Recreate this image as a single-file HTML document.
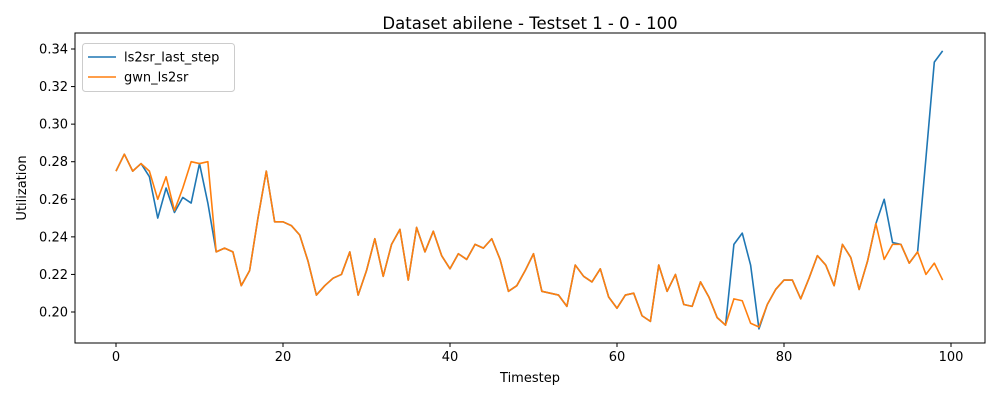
<!DOCTYPE html>
<html><head><meta charset="utf-8"><style>
body{margin:0;background:#fff;font-family:"DejaVu Sans","Liberation Sans",sans-serif}
svg text{font-family:"DejaVu Sans","Liberation Sans",sans-serif}
</style></head><body>
<svg id="c" width="1000" height="400" xmlns="http://www.w3.org/2000/svg"></svg>
<script>
const timesteps=[...Array(100).keys()];
const gwn=[.275,.284,.275,.279,.275,.260,.272,.254,.266,.280,.279,.280,.232,.234,.232,.214,.222,.250,.275,.248,.248,.246,.241,.227,.209,.214,.218,.220,.232,.209,.222,.239,.219,.236,.244,.217,.245,.232,.243,.230,.223,.231,.228,.236,.234,.239,.228,.211,.214,.222,.231,.211,.210,.209,.203,.225,.219,.216,.223,.208,.202,.209,.210,.198,.195,.225,.211,.220,.204,.203,.216,.208,.197,.193,.207,.206,.194,.192,.204,.212,.217,.217,.207,.218,.230,.225,.214,.236,.229,.212,.227,.247,.228,.236,.236,.226,.232,.220,.226,.217];
const lastStep=[.275,.284,.275,.279,.272,.250,.266,.253,.261,.258,.279,.258,.232,.234,.232,.214,.222,.250,.275,.248,.248,.246,.241,.227,.209,.214,.218,.220,.232,.209,.222,.239,.219,.236,.244,.217,.245,.232,.243,.230,.223,.231,.228,.236,.234,.239,.228,.211,.214,.222,.231,.211,.210,.209,.203,.225,.219,.216,.223,.208,.202,.209,.210,.198,.195,.225,.211,.220,.204,.203,.216,.208,.197,.193,.236,.242,.225,.191,.204,.212,.217,.217,.207,.218,.230,.225,.214,.236,.229,.212,.227,.247,.260,.237,.236,.226,.232,.282,.333,.339];
const xTicks=[0,20,40,60,80,100];
const yTicks=[0.20,0.22,0.24,0.26,0.28,0.30,0.32,0.34];
const L=75,R=985,T=33,B=343;
const xs=v=>116+(v-0)*(951-116)/100;
const ys=v=>312-(v-0.20)*(312-49)/0.14;
const svg=document.getElementById('c');const NS='http://www.w3.org/2000/svg';
function mk(t,a,p){const e=document.createElementNS(NS,t);for(const k in a)e.setAttribute(k,a[k]);(p||svg).appendChild(e);return e;}
let e;
e=mk('text',{x:530,y:29,'text-anchor':'middle','font-size':16.5,fill:'#000'});e.textContent='Dataset abilene - Testset 1 - 0 - 100';

function line(vals,color,name){const d=vals.map((v,i)=>(i?'L':'M')+xs(timesteps[i]).toFixed(2)+','+ys(v).toFixed(2)).join('');
const p=mk('path',{d,fill:'none',stroke:color,'stroke-width':1.6,'stroke-linejoin':'round'});
}
line(lastStep,'#1f77b4','series-ls2sr-last-step');
line(gwn,'#ff7f0e','series-gwn-ls2sr');
e=mk('rect',{x:L,y:T,width:R-L,height:B-T,fill:'none',stroke:'#000','stroke-width':1});

xTicks.forEach(t=>{const x=xs(t);mk('line',{x1:x,x2:x,y1:B,y2:B+4,stroke:'#000'});
const tx=mk('text',{x:x,y:B+18,'text-anchor':'middle','font-size':13});tx.textContent=t;
});
yTicks.forEach(t=>{const y=ys(t);mk('line',{x1:L-4,x2:L,y1:y,y2:y,stroke:'#000'});
const tx=mk('text',{x:L-7,y:y+4.5,'text-anchor':'end','font-size':13});tx.textContent=t.toFixed(2);
});
e=mk('text',{x:530,y:382,'text-anchor':'middle','font-size':13});e.textContent='Timestep';

e=mk('text',{x:26,y:188,'text-anchor':'middle','font-size':13,transform:'rotate(-90 26 188)'});e.textContent='Utilization';

const g=mk('g',{});
mk('rect',{x:82.5,y:43.5,width:152,height:48,rx:3,fill:'#fff',stroke:'#ccc'},g);
[['ls2sr_last_step','#1f77b4',57],['gwn_ls2sr','#ff7f0e',77]].forEach(([n,c,y])=>{
mk('line',{x1:88,x2:116,y1:y,y2:y,stroke:c,'stroke-width':1.6},g);
const t=mk('text',{x:124,y:y+4.5,'font-size':13},g);t.textContent=n;
});
</script>
</body></html>
